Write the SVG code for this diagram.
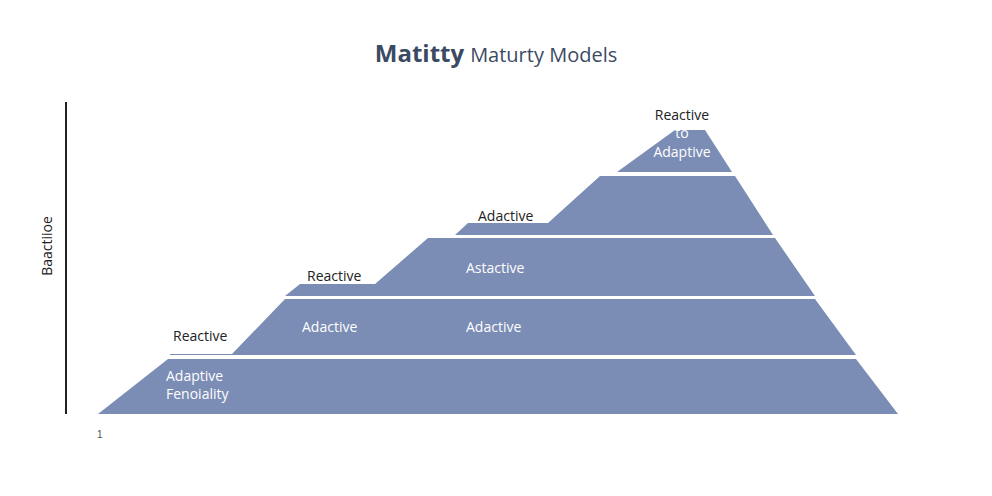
<svg xmlns="http://www.w3.org/2000/svg" width="992" height="496" viewBox="0 0 992 496">
<style>
.l{fill:#7b8db5}
.t{font-family:"Open Sans","Liberation Sans",sans-serif;font-size:14px}
.w{fill:#fff}
.d{fill:#222}
</style>
<rect width="992" height="496" fill="#fff"/>
<text x="496" y="62" text-anchor="middle" font-family="Open Sans, Liberation Sans, sans-serif" fill="#3b4a63"><tspan font-size="24" font-weight="bold">Matitty</tspan><tspan font-size="20" dx="6">Maturty Models</tspan></text>
<g id="axis"><line x1="66" y1="102" x2="66" y2="414" stroke="#222" stroke-width="2"/>
<text class="t d" transform="translate(52,246) rotate(-90)" text-anchor="middle">Baactiioe</text>
<text x="97" y="438" font-family="Liberation Sans, sans-serif" font-size="10" fill="#555">1</text></g>
<g id="layer1"><polygon class="l" points="98,414 898,414 856,359 168,359"/>
<text class="t w" x="166" y="381">Adaptive</text><text class="t w" x="166" y="399">Fenoiality</text></g>
<g id="layer2"><polygon class="l" points="170,355 856,355 815,299 285,299 232,354 170,354"/>
<text class="t d" x="173" y="341">Reactive</text>
<text class="t w" x="302" y="332">Adactive</text><text class="t w" x="466" y="332">Adactive</text></g>
<g id="layer3"><polygon class="l" points="285,296 815,296 775,238 428,238 375,284 300,284"/>
<text class="t d" x="307" y="281">Reactive</text>
<text class="t w" x="466" y="273">Astactive</text></g>
<g id="layer4"><polygon class="l" points="455,235 773,235 735,176 600,176 548,223 468,223"/>
<text class="t d" x="478" y="221">Adactive</text></g>
<g id="layer5"><polygon class="l" points="617,172 732,172 705,130 675,130"/>
<text class="t d" x="682" y="120" text-anchor="middle">Reactive</text>
<text class="t w" x="682" y="138" text-anchor="middle">to</text>
<text class="t w" x="682" y="157" text-anchor="middle">Adaptive</text></g>
</svg>
